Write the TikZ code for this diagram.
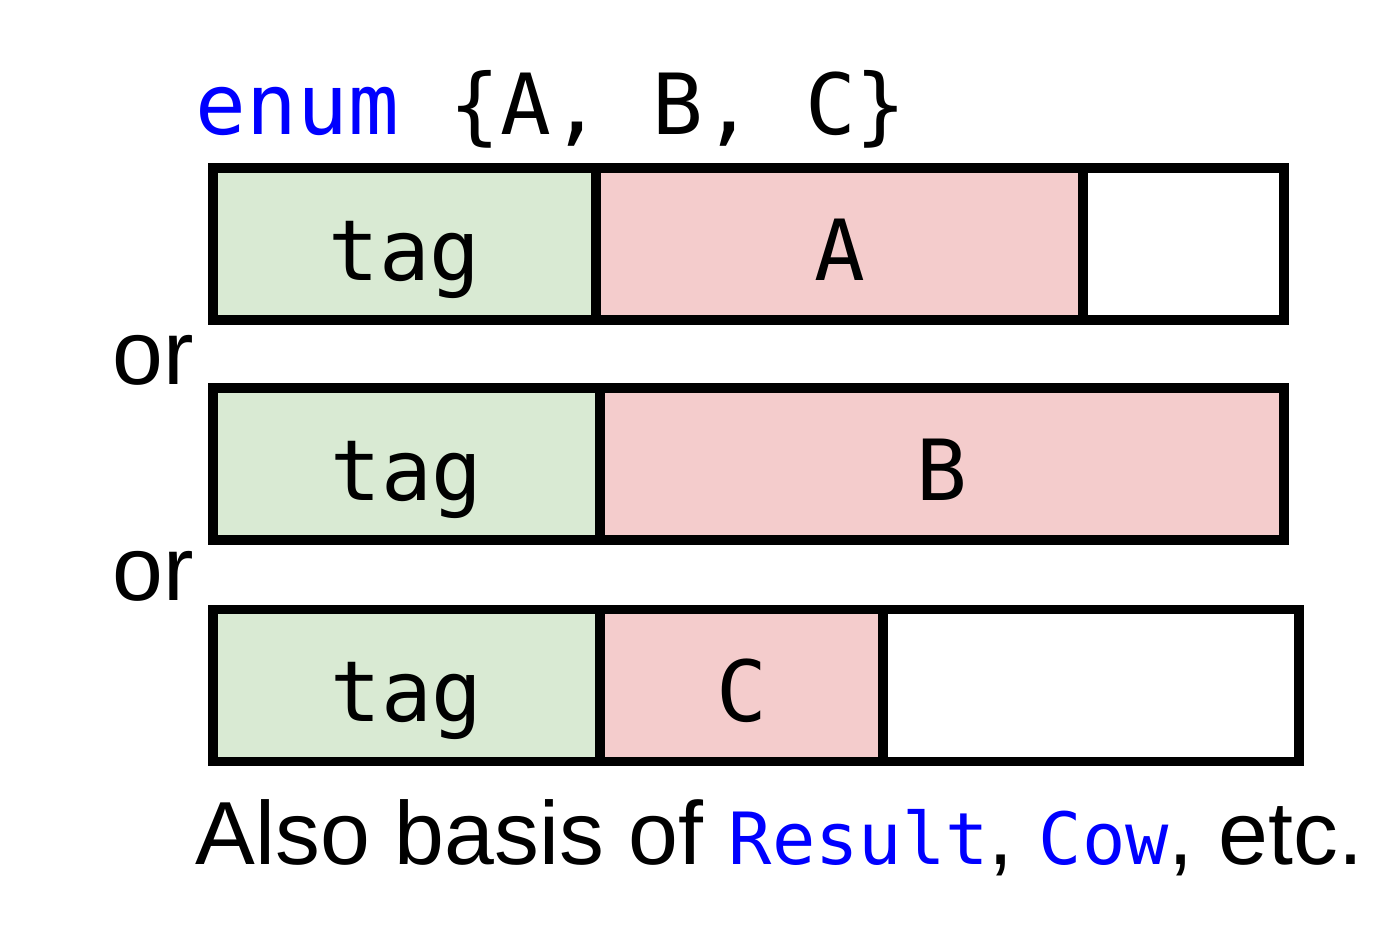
\documentclass[tikz,border=0pt]{standalone}
\usepackage{fontspec}
\setmainfont{Liberation Sans}
\setmonofont{DejaVu Sans Mono}
\usetikzlibrary{
  positioning,
}
\definecolor{tagfill}{HTML}{D9EAD3}
\definecolor{datafill}{HTML}{F4CCCC}
\definecolor{kwblue}{HTML}{0000FF}
\tikzset{
  node distance= 0mm and 0mm,
  cell/.style={
    rectangle,
    draw=black,
    line width=2.7pt,
    outer sep=0pt,
    inner sep=0pt,
    minimum height=1.52cm,
    text height=0.72cm,
    text depth=0pt,
    font=\fontsize{24}{28}\selectfont\ttfamily,
  },
  tagcell/.style={
    cell,
    fill=tagfill,
    minimum width=#1,
  },
  datacell/.style={
    cell,
    fill=datafill,
    minimum width=#1,
  },
  padcell/.style={
    cell,
    fill=white,
    minimum width=#1,
  },
  label text/.style={
    inner sep=0pt,
    anchor=base west,
    font=\fontsize{26}{30}\selectfont,
  },
}
\newcommand{\kw}[1]{\textcolor{kwblue}{\fontsize{20.5}{24}\selectfont\ttfamily #1}}
\begin{document}
\begin{tikzpicture}
  \useasboundingbox (0,0) rectangle (13.92,-9.26);

  % header
  \node [label text, font=\fontsize{24}{28}\selectfont\ttfamily]
    (head) at (1.95,-1.34) {\textcolor{kwblue}{enum} \{A, B, C\}};

  % first layout
  \node [tagcell=3.83cm, anchor=west] (tag1) at (2.13,-2.44) {tag};
  \node [datacell=4.87cm, right=of tag1] (vA) {A};
  \node [padcell=2.01cm, right=of vA] (pad1) {};

  \node [label text] (or1) at (1.12,-3.84) {or};

  % second layout
  \node [tagcell=3.87cm, anchor=west] (tag2) at (2.13,-4.64) {tag};
  \node [datacell=6.84cm, right=of tag2] (vB) {B};

  \node [label text] (or2) at (1.12,-6.00) {or};

  % third layout
  \node [tagcell=3.87cm, anchor=west] (tag3) at (2.13,-6.855) {tag};
  \node [datacell=2.83cm, right=of tag3] (vC) {C};
  \node [padcell=4.16cm, right=of vC] (pad3) {};

  % footer
  \node [label text, font=\fontsize{25.5}{30}\selectfont] (foot) at (1.95,-8.64)
    {Also basis of \kw{Result}, \kw{Cow}, etc.};
\end{tikzpicture}
\end{document}
